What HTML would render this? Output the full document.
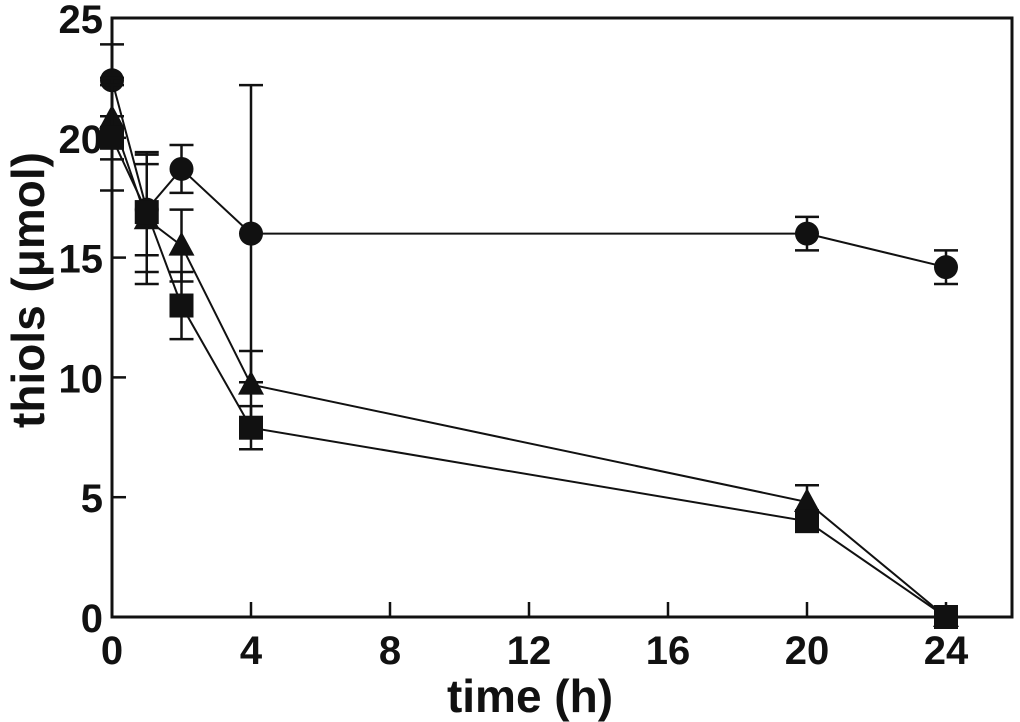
<!DOCTYPE html>
<html><head><meta charset="utf-8"><style>
html,body{margin:0;padding:0;background:#fff;}
svg{display:block;font-family:"Liberation Sans",Arial,sans-serif;font-weight:bold;}
</style></head><body>
<svg id="chart" width="1020" height="722" viewBox="0 0 1020 722" xmlns="http://www.w3.org/2000/svg">
<rect x="112" y="18" width="900" height="599" fill="none" stroke="#111" stroke-width="3"/>
<g id="axes"></g>
<g id="series"></g>
<text x="530" y="712" font-size="46" text-anchor="middle" fill="#111">time (h)</text>
<text transform="translate(44,290) rotate(-90)" font-size="46" text-anchor="middle" fill="#111">thiols (μmol)</text>
</svg>
<script>
const xTicks=[0,4,8,12,16,20,24];
const yTicks=[0,5,10,15,20,25];
const times=[0,1,2,4,20,24];
const circleVals=[22.4,17.0,18.7,16.0,16.0,14.6];
const circleErr=[1.5,1.9,1.0,6.2,0.7,0.7];
const triVals=[20.8,16.6,15.5,9.7,4.8,0];
const triErr=[1.7,2.7,1.5,1.4,0.7,0];
const sqVals=[20.0,16.9,13.0,7.9,4.0,0];
const sqErr=[2.2,2.5,1.4,0.9,0,0];

const X0=112,XS=34.75,Y0=617,YS=23.96;
const xs=v=>X0+v*XS, ys=v=>Y0-v*YS;
const NS="http://www.w3.org/2000/svg";
function mk(tag,attrs,parent){const e=document.createElementNS(NS,tag);for(const k in attrs)e.setAttribute(k,attrs[k]);parent.appendChild(e);return e;}
const axes=document.getElementById('axes'),ser=document.getElementById('series');
xTicks.forEach(t=>{
  const l=mk('line',{x1:xs(t),x2:xs(t),y1:Y0,y2:Y0-15,stroke:'#111','stroke-width':2.5},axes);
  
  
  const tx=mk('text',{x:xs(t),y:Y0+47,'font-size':40,'text-anchor':'middle',fill:'#111'},axes);
  tx.textContent=t;
  
  
});
yTicks.forEach(t=>{
  const l=mk('line',{x1:X0,x2:X0+14,y1:ys(t),y2:ys(t),stroke:'#111','stroke-width':2.5},axes);
  
  
  const tx=mk('text',{x:103,y:ys(t)+15,'font-size':40,'text-anchor':'end',fill:'#111'},axes);
  tx.textContent=t;
  
  
});
function drawSeries(vals,err,shape,name){
  const g=mk('g',{},ser);
  
  
  const pl=mk('polyline',{points:times.map((t,i)=>xs(t)+','+ys(vals[i])).join(' '),fill:'none',stroke:'#111','stroke-width':2},g);
  
  
  times.forEach((t,i)=>{
    const x=xs(t),y=ys(vals[i]);
    if(err[i]>0){
      const e=mk('path',{d:`M${x},${ys(vals[i]+err[i])}V${ys(vals[i]-err[i])}M${x-12},${ys(vals[i]+err[i])}H${x+12}M${x-12},${ys(vals[i]-err[i])}H${x+12}`,stroke:'#111','stroke-width':2.5,fill:'none'},g);
      
      
    }
    let m;
    if(shape==='circle') m=mk('circle',{cx:x,cy:y,r:12,fill:'#111'},g);
    else if(shape==='tri') m=mk('polygon',{points:`${x},${y-14} ${x-13},${y+10} ${x+13},${y+10}`,fill:'#111'},g);
    else m=mk('rect',{x:x-12,y:y-12,width:24,height:24,fill:'#111'},g);
    
    
  });
}
drawSeries(circleVals,circleErr,'circle','circle');
drawSeries(triVals,triErr,'tri','triangle');
drawSeries(sqVals,sqErr,'square','square');
</script>
</body></html>
